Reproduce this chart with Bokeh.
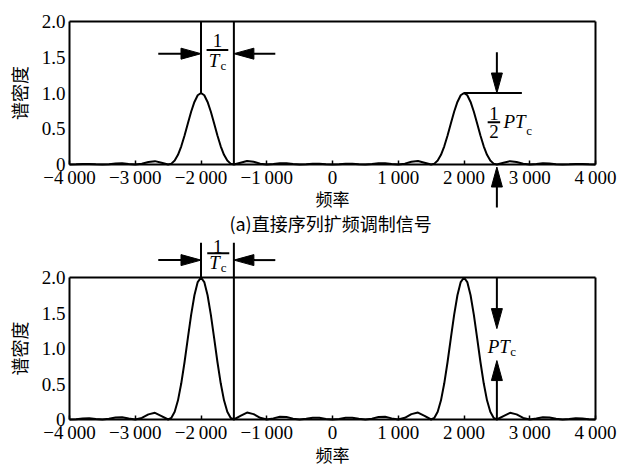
from bokeh.plotting import figure
from bokeh.models import Range1d, FixedTicker, Label, Arrow, PolyAnnotation, LinearAxis
from bokeh.layouts import column
from bokeh.embed import file_html
from bokeh.resources import INLINE

# ---------------- data ----------------
FREQ = [-4000, -3900, -3800, -3700, -3600, -3500, -3400, -3300, -3200, -3100,
        -3000, -2900, -2800, -2700, -2600, -2500,
        -2450, -2400, -2350, -2300, -2250, -2200, -2150, -2100, -2050, -2000,
        -1950, -1900, -1850, -1800, -1750, -1700, -1650, -1600, -1550,
        -1500, -1400, -1300, -1200, -1100, -1000, -900, -800, -700, -600,
        -500, -400, -300, -200, -100, 0, 100, 200, 300, 400,
        500, 600, 700, 800, 900, 1000, 1100, 1200, 1300, 1400, 1500,
        1550, 1600, 1650, 1700, 1750, 1800, 1850, 1900, 1950, 2000,
        2050, 2100, 2150, 2200, 2250, 2300, 2350, 2400, 2450,
        2500, 2600, 2700, 2800, 2900, 3000, 3100, 3200, 3300, 3400,
        3500, 3600, 3700, 3800, 3900, 4000]

# (a) direct-sequence spread-spectrum signal, peak = 1/2 P Tc
PSD_DSSS = [0, 0.002, 0.007, 0.008, 0.003, 0, 0.005, 0.014, 0.016, 0.007,
            0, 0.011, 0.036, 0.047, 0.024, 0,
            0.012, 0.055, 0.135, 0.255, 0.405, 0.573, 0.737, 0.875, 0.968, 1.0,
            0.968, 0.875, 0.737, 0.573, 0.405, 0.255, 0.135, 0.055, 0.012,
            0, 0.025, 0.049, 0.038, 0.012, 0, 0.008, 0.019, 0.017, 0.006,
            0, 0.005, 0.012, 0.012, 0.004, 0, 0.004, 0.012, 0.012, 0.005,
            0, 0.006, 0.017, 0.019, 0.008, 0, 0.012, 0.038, 0.049, 0.025, 0,
            0.012, 0.055, 0.135, 0.255, 0.405, 0.573, 0.737, 0.875, 0.968, 1.0,
            0.968, 0.875, 0.737, 0.573, 0.405, 0.255, 0.135, 0.055, 0.012,
            0, 0.024, 0.047, 0.036, 0.011, 0, 0.007, 0.016, 0.014, 0.005,
            0, 0.003, 0.008, 0.007, 0.002, 0]

# lower panel, peak = P Tc
PSD_LOWER = [0, 0.004, 0.014, 0.016, 0.006, 0, 0.010, 0.028, 0.032, 0.014,
             0, 0.022, 0.072, 0.094, 0.048, 0,
             0.024, 0.110, 0.270, 0.510, 0.810, 1.146, 1.474, 1.750, 1.936, 2.0,
             1.936, 1.750, 1.474, 1.146, 0.810, 0.510, 0.270, 0.110, 0.024,
             0, 0.050, 0.098, 0.076, 0.024, 0, 0.016, 0.038, 0.034, 0.012,
             0, 0.010, 0.024, 0.024, 0.008, 0, 0.008, 0.024, 0.024, 0.010,
             0, 0.012, 0.034, 0.038, 0.016, 0, 0.024, 0.076, 0.098, 0.050, 0,
             0.024, 0.110, 0.270, 0.510, 0.810, 1.146, 1.474, 1.750, 1.936, 2.0,
             1.936, 1.750, 1.474, 1.146, 0.810, 0.510, 0.270, 0.110, 0.024,
             0, 0.048, 0.094, 0.072, 0.022, 0, 0.014, 0.032, 0.028, 0.010,
             0, 0.006, 0.016, 0.014, 0.004, 0]

X_MIN, X_MAX = -4000, 4000
Y_MIN, Y_MAX = 0, 2.0
X_TICKS = [-4000, -3000, -2000, -1000, 0, 1000, 2000, 3000, 4000]
X_TICK_LABELS = ["\u22124\u2009000", "\u22123\u2009000", "\u22122\u2009000", "\u22121\u2009000",
                 "0", "1\u2009000", "2\u2009000", "3\u2009000", "4\u2009000"]
Y_TICKS = [0, 0.5, 1.0, 1.5, 2.0]
Y_TICK_LABELS = ["0", "0.5", "1.0", "1.5", "2.0"]

X_LABEL = "频率"
Y_LABEL = "谱密度"
CAPTION_A = "(a)直接序列扩频调制信号"

# annotation anchors (data units)
LOBE_CENTER = -2000     # centre of the left main lobe
LOBE_NULL = -1500       # first null, 1/Tc away
MARK_X = 2500           # x of the vertical PTc arrows
HALF_PEAK_LINE_END = 2880

# ---------------- layout / style (pixels) ----------------
SERIF = "Liberation Serif"
CJK = "Noto Sans CJK SC"
W = 636
FRAME_L_PX, FRAME_R_PX = 69, 595
PX_X = (FRAME_R_PX - FRAME_L_PX) / float(X_MAX - X_MIN)
HEAD_LEN = 20
HEAD_W = 11
LW = 2


def make_fig(height, top_px, zero_px, y_vals):
    ppy = (zero_px - top_px) / float(Y_MAX - Y_MIN)
    x0 = X_MIN - FRAME_L_PX / PX_X
    x1 = X_MAX + (W - FRAME_R_PX) / PX_X
    y1 = Y_MIN + zero_px / ppy
    y0 = Y_MIN - (height - zero_px) / ppy
    p = figure(width=W, height=height, x_range=Range1d(x0, x1), y_range=Range1d(y0, y1),
               output_backend="svg", toolbar_location=None,
               x_axis_location=None, y_axis_location=None,
               min_border_left=0, min_border_right=0, min_border_top=0, min_border_bottom=0)
    p.background_fill_color = "white"
    p.border_fill_color = "white"
    p.outline_line_color = None
    p.grid.visible = False

    xa = LinearAxis(fixed_location=Y_MIN, bounds=(X_MIN, X_MAX), ticker=FixedTicker(ticks=X_TICKS))
    xa.major_label_overrides = dict(zip(X_TICKS, X_TICK_LABELS))
    xa.minor_tick_line_color = None
    xa.major_tick_in = 4
    xa.major_tick_out = 0
    xa.major_tick_line_width = 1.5
    xa.major_tick_line_color = "black"
    xa.axis_line_color = "black"
    xa.axis_line_width = LW
    xa.major_label_text_font = SERIF
    xa.major_label_text_font_size = "19px"
    xa.major_label_text_color = "black"
    xa.major_label_standoff = 2
    p.add_layout(xa, "below")

    ya = LinearAxis(fixed_location=X_MIN, bounds=(Y_MIN, Y_MAX), ticker=FixedTicker(ticks=Y_TICKS))
    ya.major_label_overrides = dict(zip(Y_TICKS, Y_TICK_LABELS))
    ya.minor_tick_line_color = None
    ya.major_tick_in = 0
    ya.major_tick_out = 0
    ya.axis_line_color = "black"
    ya.axis_line_width = LW
    ya.major_label_text_font = SERIF
    ya.major_label_text_font_size = "19px"
    ya.major_label_text_color = "black"
    ya.major_label_standoff = 4
    ya.axis_label = Y_LABEL
    ya.axis_label_text_font = CJK
    ya.axis_label_text_font_size = "18px"
    ya.axis_label_text_font_style = "normal"
    ya.axis_label_text_color = "black"
    ya.axis_label_standoff = 7
    p.add_layout(ya, "left")

    # closing sides of the plot box
    top = LinearAxis(fixed_location=Y_MAX, bounds=(X_MIN, X_MAX), ticker=FixedTicker(ticks=[]))
    right = LinearAxis(fixed_location=X_MAX, bounds=(Y_MIN, Y_MAX), ticker=FixedTicker(ticks=[]))
    for ax, side in ((top, "above"), (right, "right")):
        ax.major_tick_in = 0
        ax.major_tick_out = 0
        ax.minor_tick_line_color = None
        ax.major_label_text_font_size = "0px"
        ax.axis_line_color = "black"
        ax.axis_line_width = LW
        p.add_layout(ax, side)

    p.line(FREQ, y_vals, line_color="black", line_width=LW)
    return p, ppy


def seg(p, x0, y0, x1, y1):
    p.add_layout(Arrow(start=None, end=None, x_start=x0, y_start=y0, x_end=x1, y_end=y1,
                       line_color="black", line_width=LW))


def head(p, x, y, direction, px_y):
    if direction in ("left", "right"):
        L = HEAD_LEN / PX_X
        hw = HEAD_W / 2.0 / px_y
        s = -1 if direction == "right" else 1
        xs = [x, x + s * L, x + s * L]
        ys = [y, y + hw, y - hw]
        base = (x + s * L, y)
    else:
        L = HEAD_LEN / px_y
        hw = HEAD_W / 2.0 / PX_X
        s = -1 if direction == "up" else 1
        xs = [x, x + hw, x - hw]
        ys = [y, y + s * L, y + s * L]
        base = (x, y + s * L)
    p.add_layout(PolyAnnotation(xs=xs, ys=ys, fill_color="black", fill_alpha=1.0,
                                line_color="black", line_alpha=1.0, line_width=1))
    return base


def arrow(p, x0, y0, x1, y1, direction, px_y):
    bx, by = head(p, x1, y1, direction, px_y)
    seg(p, x0, y0, bx, by)


def text(p, x, y, t, size="19px", font=SERIF, style="normal", align="center", baseline="middle"):
    p.add_layout(Label(x=x, y=y, text=t, text_font=font, text_font_size=size,
                       text_font_style=style, text_align=align, text_baseline=baseline,
                       text_color="black"))


# ---------------- top panel (a) ----------------
p1, PY1 = make_fig(235, 21, 164, PSD_DSSS)
seg(p1, LOBE_CENTER, 1.0, LOBE_CENTER, Y_MAX)
seg(p1, LOBE_NULL, 0.0, LOBE_NULL, Y_MAX)
arrow(p1, -2650, 1.55, LOBE_CENTER, 1.55, "right", PY1)
arrow(p1, -870, 1.55, LOBE_NULL, 1.55, "left", PY1)
text(p1, -1750, 1.74, "1")
seg(p1, -1915, 1.60, -1585, 1.60)
text(p1, -1800, 1.45, "T", style="italic")
text(p1, -1660, 1.38, "c", size="13px")

seg(p1, 2000, 1.0, HALF_PEAK_LINE_END, 1.0)
arrow(p1, MARK_X, 1.57, MARK_X, 1.0, "down", PY1)
arrow(p1, MARK_X, -0.60, MARK_X, -0.035, "up", PY1)
text(p1, 2455, 0.72, "1")
seg(p1, 2360, 0.59, 2550, 0.59)
text(p1, 2455, 0.455, "2")
text(p1, 2600, 0.60, "PT", style="italic", align="left")
text(p1, 2945, 0.47, "c", size="13px", align="left")

text(p1, 0, -0.475, X_LABEL, size="17px", font=CJK)
text(p1, -30, -0.825, CAPTION_A, size="18px", font=CJK)

# ---------------- bottom panel ----------------
p2, PY2 = make_fig(234, 42, 184, PSD_LOWER)
seg(p2, LOBE_CENTER, Y_MAX, LOBE_CENTER, 2.49)
seg(p2, LOBE_NULL, 0.0, LOBE_NULL, 2.49)
arrow(p2, -2650, 2.245, LOBE_CENTER, 2.245, "right", PY2)
arrow(p2, -870, 2.245, LOBE_NULL, 2.245, "left", PY2)
text(p2, -1745, 2.43, "1")
seg(p2, -1905, 2.343, -1570, 2.343)
text(p2, -1795, 2.214, "T", style="italic")
text(p2, -1655, 2.14, "c", size="13px")

arrow(p2, MARK_X, Y_MAX, MARK_X, 1.28, "down", PY2)
arrow(p2, MARK_X, 0.0, MARK_X, 0.83, "up", PY2)
text(p2, 2360, 1.03, "PT", style="italic", align="left")
text(p2, 2705, 0.96, "c", size="13px", align="left")

text(p2, 0, -0.49, X_LABEL, size="17px", font=CJK)

layout = column(p1, p2)
open("out.html", "w").write(file_html(layout, INLINE))
